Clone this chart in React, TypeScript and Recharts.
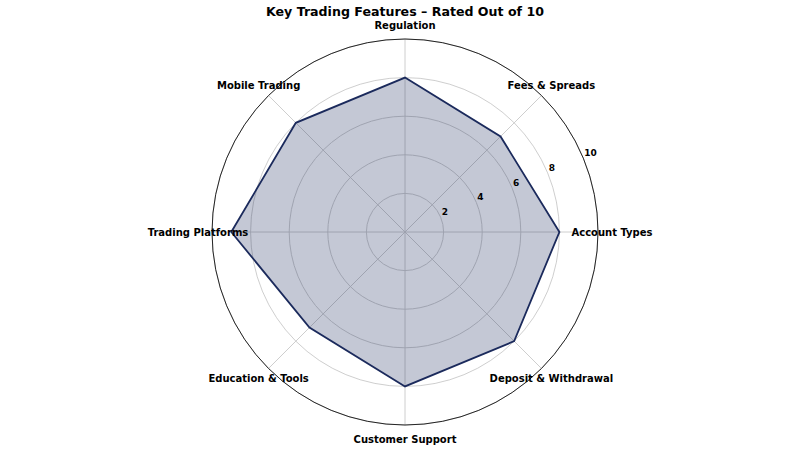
import { PolarAngleAxis, PolarGrid, PolarRadiusAxis, Radar, RadarChart } from 'recharts';

const features = [
	'Account Types',
	'Fees & Spreads',
	'Regulation',
	'Mobile Trading',
	'Trading Platforms',
	'Education & Tools',
	'Customer Support',
	'Deposit & Withdrawal',
];
const scores = [8, 7, 8, 8, 9, 7, 8, 8];
const radiusTicks = [0, 2, 4, 6, 8, 10];

const data = features.map((feature, i) => ({ feature, score: scores[i] }));

const CX = 405;
const CY = 232;
const OUTER_R = 193;
const LABEL_R = 207;
const NAVY = '#1b2a5c';
const FONT = '"DejaVu Sans", sans-serif';

// label direction follows the category's order, first one pointing right
function AngleTick(props: any) {
	const { payload, index } = props;
	const a = ((index * 360) / features.length) * (Math.PI / 180);
	const x = CX + LABEL_R * Math.cos(a);
	const y = CY - LABEL_R * Math.sin(a);
	return (
		<text
			x={x}
			y={y}
			textAnchor="middle"
			dominantBaseline="central"
			fontFamily={FONT}
			fontWeight="bold"
			fontSize={10}
			fill="#000"
		>
			{payload.value}
		</text>
	);
}

function RadiusTick(props: any) {
	const { x, y, payload } = props;
	if (payload.value === 0) {
		return <g />;
	}
	return (
		<text
			x={x + 1}
			y={y - 5}
			textAnchor="start"
			dominantBaseline="central"
			fontFamily={FONT}
			fontWeight="bold"
			fontSize={9}
			fill="#000"
		>
			{payload.value}
		</text>
	);
}

export default function App() {
	return (
		<div style={{ position: 'absolute', left: 0, top: 0, width: 800, height: 450, background: '#fff' }}>
			<div
				style={{
					position: 'absolute',
					left: 0,
					top: 4,
					width: 810,
					textAlign: 'center',
					fontFamily: FONT,
					fontWeight: 'bold',
					fontSize: 12.6,
					color: '#000',
				}}
			>
				Key Trading Features – Rated Out of 10
			</div>
			<RadarChart
				width={800}
				height={450}
				data={data}
				cx={CX}
				cy={CY}
				outerRadius={OUTER_R}
				startAngle={-45}
				endAngle={315}
				margin={{ top: 0, right: 0, bottom: 0, left: 0 }}
			>
				<PolarGrid gridType="circle" stroke="#c8c8c8" strokeWidth={0.9} />
				<PolarAngleAxis
					dataKey="feature"
					axisLineType="circle"
					axisLine={{ stroke: '#111', strokeWidth: 0.9 }}
					tickLine={false}
					tick={<AngleTick />}
				/>
				<PolarRadiusAxis
					angle={22.5}
					domain={[0, 10]}
					ticks={radiusTicks as any}
					tickCount={6}
					axisLine={false}
					tickLine={false}
					tick={<RadiusTick />}
				/>
				<Radar
					dataKey="score"
					stroke={NAVY}
					strokeWidth={1.8}
					fill={NAVY}
					fillOpacity={0.26}
					isAnimationActive={false}
				/>
			</RadarChart>
		</div>
	);
}
